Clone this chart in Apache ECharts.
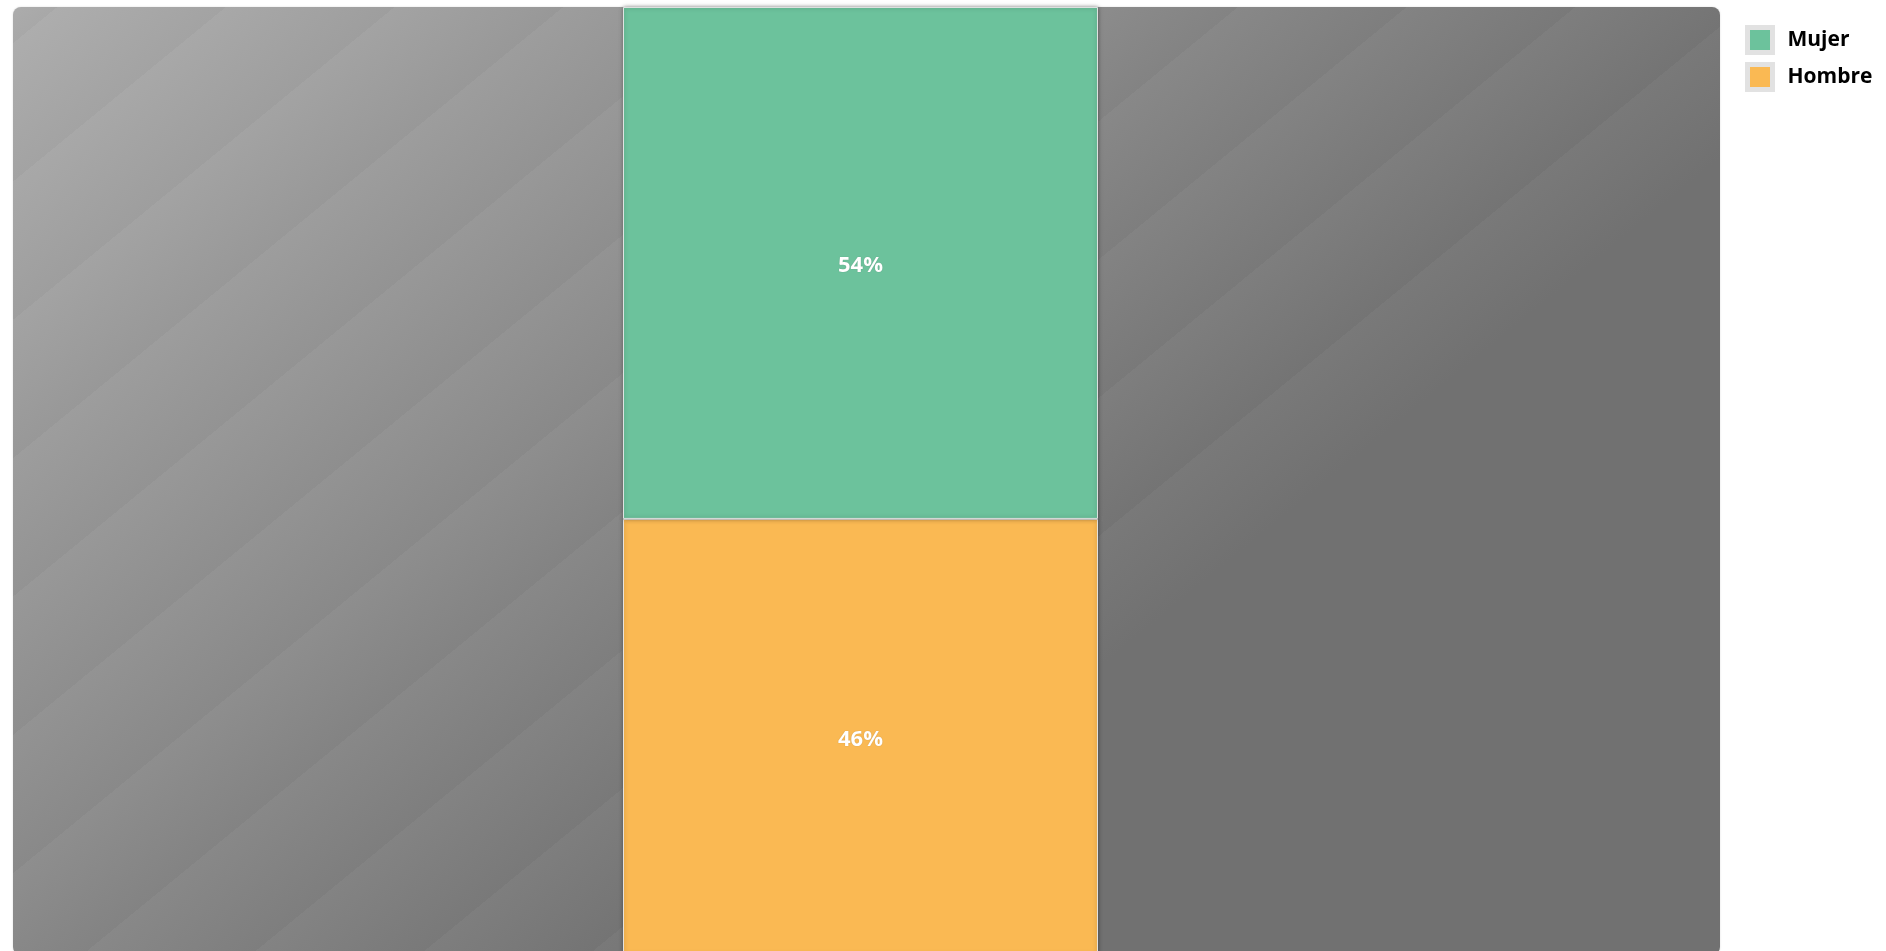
<!DOCTYPE html>
<html>
<head>
<meta charset="utf-8">
<script src="https://cdn.jsdelivr.net/npm/echarts@6/dist/echarts.min.js"></script>
<style>
  html, body { margin: 0; padding: 0; background: #ffffff; overflow: hidden; }
  #chart { width: 1886px; height: 956px; }
</style>
</head>
<body>
<div id="chart"></div>
<script>
// ---- data ----
const categories = ['Total'];
const seriesNames = ['Mujer', 'Hombre'];
const mujerValues = [54];
const hombreValues = [46];
const seriesColors = ['#6cc29c', '#fab953'];

// ---- background panel gradient (styling only) ----
function grey(v) {
  v = Math.max(0, Math.min(255, Math.round(v)));
  const h = v.toString(16).padStart(2, '0');
  return '#' + h + h + h;
}
const ux = 0.634, uy = 0.773, L = 1816;
function base(p) { return p >= 1200 ? 113 : 172 - 59 * p / 1200; }
const stops = [];
const bounds = [];
for (let k = 0; k < 12; k++) bounds.push(28 + 107 * k);
stops.push({ offset: 0, color: grey(base(0)) });
stops.push({ offset: 28 / L, color: grey(base(28) - 2.5) });
for (let k = 0; k < bounds.length - 1; k++) {
  const a = bounds[k], b = Math.min(bounds[k + 1], 1200);
  stops.push({ offset: a / L, color: grey(base(a) + 2.5) });
  stops.push({ offset: b / L, color: grey(Math.max(113, base(b) - 2.5)) });
}
stops.push({ offset: 1200 / L, color: grey(113) });
stops.push({ offset: 1, color: grey(113) });

const chart = echarts.init(document.getElementById('chart'));
const labelStyle = {
  show: true,
  position: 'inside',
  formatter: '{c}%',
  offset: [0, 3],
  color: '#ffffff',
  fontFamily: 'Open Sans',
  fontWeight: 'bold',
  fontSize: 22,
  textShadowColor: 'rgba(0,0,0,0.25)',
  textShadowBlur: 1
};
const option = {
  animation: false,
  graphic: [{
    type: 'rect',
    left: 13,
    top: 7,
    z: -10,
    silent: true,
    shape: { width: 1707, height: 948, r: 8 },
    style: {
      fill: new echarts.graphic.LinearGradient(0, 0, L * ux, L * uy, stops, true),
      shadowBlur: 2,
      shadowColor: 'rgba(0,0,0,0.15)'
    }
  }],
  legend: {
    data: seriesNames,
    orient: 'vertical',
    left: 1745,
    top: 25,
    padding: 0,
    itemWidth: 25,
    itemHeight: 25,
    itemGap: 7,
    icon: 'rect',
    selectedMode: false,
    itemStyle: { borderColor: '#e2e2e2', borderWidth: 5, shadowBlur: 0, shadowColor: 'transparent' },
    textStyle: {
      fontFamily: 'Open Sans',
      fontSize: 21,
      lineHeight: 25,
      fontWeight: 'bold',
      color: '#000000',
      padding: [0, 0, 0, 10]
    }
  },
  grid: { left: 13, right: 178, top: 7, bottom: 1, containLabel: false },
  xAxis: {
    type: 'category',
    data: categories,
    show: false
  },
  yAxis: {
    type: 'value',
    min: 0,
    max: 100,
    show: false,
    splitLine: { show: false }
  },
  series: [
    {
      name: 'Hombre',
      type: 'bar',
      stack: 'total',
      barWidth: 475,
      data: hombreValues,
      itemStyle: {
        color: seriesColors[1],
        borderColor: 'rgba(235,235,235,0.9)',
        borderWidth: 1,
        shadowBlur: 4,
        shadowColor: 'rgba(0,0,0,0.35)'
      },
      label: labelStyle
    },
    {
      name: 'Mujer',
      type: 'bar',
      stack: 'total',
      barWidth: 475,
      data: mujerValues,
      itemStyle: {
        color: seriesColors[0],
        borderColor: 'rgba(235,235,235,0.9)',
        borderWidth: 1,
        shadowBlur: 4,
        shadowColor: 'rgba(0,0,0,0.35)'
      },
      label: labelStyle
    }
  ]
};
chart.setOption(option);
</script>
</body>
</html>
